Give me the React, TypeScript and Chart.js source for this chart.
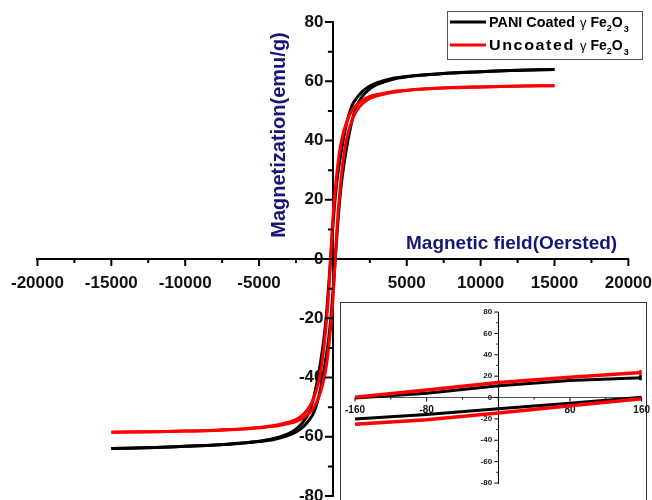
import React, { useEffect, useRef } from 'react';
import { Chart, registerables } from 'chart.js';

Chart.register(...registerables);

// ---------------- data ----------------
// Main loop: descending branch (from +15000 Oe) and ascending branch (from -15000 Oe)
const fieldDown = [15000, 12000, 10000, 8000, 6000, 5000, 4000, 3000, 2500, 2000, 1600, 1300, 1000, 800, 600, 450, 300, 160, 80, 0, -80, -160, -300, -450, -600, -800, -1000, -1300, -1600, -2000, -2500, -3000, -4000, -5000, -6000, -8000, -10000, -12000, -15000];
const paniDown = [64.0, 63.6, 63.2, 62.8, 62.1, 61.6, 60.9, 59.5, 58.4, 56.6, 54.3, 51.9, 47.2, 42.9, 37.3, 32.7, 27.4, 21.0, 16.4, 11.2, 5.6, 0, -9.8, -19.4, -26.6, -33.7, -39.6, -46.8, -51.6, -54.9, -57.4, -58.9, -60.6, -61.5, -62.0, -62.8, -63.2, -63.6, -64.0];
const uncDown = [58.5, 58.3, 58.1, 57.9, 57.4, 57.0, 56.5, 55.5, 54.9, 53.6, 52.0, 50.2, 47.1, 44.3, 40.4, 36.3, 30.4, 23.5, 19.0, 14.0, 7.0, 0, -12.3, -21.8, -29.5, -37.1, -42.2, -46.9, -50.0, -52.4, -54.2, -55.1, -56.2, -56.9, -57.3, -57.8, -58.1, -58.3, -58.5];

const fieldUp = [-15000, -12000, -10000, -8000, -6000, -5000, -4000, -3000, -2500, -2000, -1600, -1300, -1000, -800, -600, -450, -300, -160, -80, 0, 80, 160, 300, 450, 600, 800, 1000, 1300, 1600, 2000, 2500, 3000, 4000, 5000, 6000, 8000, 10000, 12000, 15000];
const paniUp = [-64.0, -63.6, -63.2, -62.8, -62.1, -61.6, -60.9, -59.5, -58.4, -56.6, -54.3, -51.9, -47.2, -42.9, -37.3, -32.7, -27.4, -21.0, -16.4, -11.2, -5.6, 0, 9.8, 19.4, 26.6, 33.7, 39.6, 46.8, 51.6, 54.9, 57.4, 58.9, 60.6, 61.5, 62.0, 62.8, 63.2, 63.6, 64.0];
const uncUp = [-58.5, -58.3, -58.1, -57.9, -57.4, -57.0, -56.5, -55.5, -54.9, -53.6, -52.0, -50.2, -47.1, -44.3, -40.4, -36.3, -30.4, -23.5, -19.0, -14.0, -7.0, 0, 12.3, 21.8, 29.5, 37.1, 42.2, 46.9, 50.0, 52.4, 54.2, 55.1, 56.2, 56.9, 57.3, 57.8, 58.1, 58.3, 58.5];

// Inset (low-field zoom of the loop)
const insetField = [-160, -80, 0, 80, 160];
const insetPaniUpper = [-0.5, 4, 11, 15.8, 18.5];
const insetPaniLower = [-20.2, -16, -10.5, -5.3, 0.3];
const insetUncUpper = [0.3, 7, 14, 19, 23.3];
const insetUncLower = [-25, -20.8, -14.6, -7.8, -1.2];

const seriesNames = ['PANI Coated', 'Uncoated'];
const seriesColors = ['#000000', '#ff0000'];
const compound = ['γ', 'Fe', '2', 'O', '3'];

const mainXLabels = [-20000, -15000, -10000, -5000, 5000, 10000, 15000, 20000];
const mainYLabels = [-80, -60, -40, -20, 0, 20, 40, 60, 80];
const insetXLabels = [-160, -80, 80, 160];
const insetYLabels = [-80, -60, -40, -20, 0, 20, 40, 60, 80];

const xTitle = 'Magnetic field(Oersted)';
const yTitle = 'Magnetization(emu/g)';

const FONT = '"Liberation Sans", Arial, sans-serif';
const NAVY = '#161678';
// the main canvas is shifted left by this many pixels; page positions are offset by it
const OFF = 3;

const toPts = (xs: number[], ys: number[]) => xs.map((x, i) => ({ x, y: ys[i] }));

const mainDecor = {
  id: 'mainDecor',
  afterDraw(chart: any) {
    const ctx: CanvasRenderingContext2D = chart.ctx;
    const xs = chart.scales.x;
    const ys = chart.scales.y;
    const x0 = xs.getPixelForValue(0);
    const y0 = ys.getPixelForValue(0);
    ctx.save();
    ctx.strokeStyle = '#000';
    ctx.lineWidth = 2;
    ctx.beginPath();
    ys.ticks.forEach((t: any) => {
      const p = ys.getPixelForValue(t.value);
      const len = mainYLabels.includes(t.value) ? 8 : 5;
      ctx.moveTo(x0 - len, p);
      ctx.lineTo(x0, p);
    });
    xs.ticks.forEach((t: any) => {
      const p = xs.getPixelForValue(t.value);
      const len = t.value % 5000 === 0 ? 7 : 4;
      ctx.moveTo(p, y0);
      ctx.lineTo(p, y0 + len);
    });
    ctx.stroke();

    ctx.translate(OFF, 0);
    // axis titles
    ctx.fillStyle = NAVY;
    ctx.font = `bold 19px ${FONT}`;
    ctx.textAlign = 'left';
    ctx.textBaseline = 'alphabetic';
    ctx.fillText(xTitle, 406, 249);
    ctx.save();
    ctx.translate(285, 135);
    ctx.rotate(-Math.PI / 2);
    ctx.font = `bold 20px ${FONT}`;
    ctx.textAlign = 'center';
    ctx.fillText(yTitle, 0, 0);
    ctx.restore();

    // legend
    const bx = 447, by = 11, bw = 196, bh = 49;
    ctx.fillStyle = '#fff';
    ctx.fillRect(bx, by, bw, bh);
    ctx.strokeStyle = '#555';
    ctx.lineWidth = 1;
    ctx.strokeRect(bx + 0.5, by + 0.5, bw - 1, bh - 1);
    const rows = [22, 45];
    seriesNames.forEach((name, i) => {
      const y = rows[i];
      ctx.strokeStyle = seriesColors[i];
      ctx.lineWidth = 3;
      ctx.beginPath();
      ctx.moveTo(450, y);
      ctx.lineTo(486, y);
      ctx.stroke();
      ctx.fillStyle = '#000';
      ctx.textAlign = 'left';
      ctx.font = `bold 14px ${FONT}`;
      const w = ctx.measureText(name).width;
      const target = 86;
      const sx = Math.min(1.15, Math.max(1, target / w));
      const rest = Math.max(0, target - w * sx);
      ctx.save();
      ctx.translate(489, y + 5);
      ctx.scale(sx, 1);
      (ctx as any).letterSpacing = `${rest / name.length / sx}px`;
      ctx.fillText(name, 0, 0);
      ctx.restore();
      let x = 580;
      ctx.font = `13px ${FONT}`;
      ctx.fillText(compound[0], x, y + 5);
      x += ctx.measureText(compound[0]).width + 4;
      ctx.font = `bold 14px ${FONT}`;
      ctx.fillText(compound[1], x, y + 5);
      x += ctx.measureText(compound[1]).width;
      ctx.font = `bold 9px ${FONT}`;
      ctx.fillText(compound[2], x, y + 9);
      x += ctx.measureText(compound[2]).width;
      ctx.font = `bold 14px ${FONT}`;
      ctx.fillText(compound[3], x, y + 5);
      x += ctx.measureText(compound[3]).width + 1;
      ctx.font = `bold 9px ${FONT}`;
      ctx.fillText(compound[4], x, y + 10);
    });
    ctx.restore();
  },
};

const insetDecor = {
  id: 'insetDecor',
  afterDraw(chart: any) {
    const ctx: CanvasRenderingContext2D = chart.ctx;
    const xs = chart.scales.x;
    const ys = chart.scales.y;
    const x0 = xs.getPixelForValue(0);
    const y0 = ys.getPixelForValue(0);
    ctx.save();
    ctx.strokeStyle = '#000';
    ctx.lineWidth = 1;
    ctx.beginPath();
    ys.ticks.forEach((t: any) => {
      const p = ys.getPixelForValue(t.value);
      const len = insetYLabels.includes(t.value) ? 4 : 2;
      ctx.moveTo(x0 - len, p);
      ctx.lineTo(x0, p);
    });
    xs.ticks.forEach((t: any) => {
      const p = xs.getPixelForValue(t.value);
      const len = t.value % 80 === 0 ? 4 : 2;
      ctx.moveTo(p, y0);
      ctx.lineTo(p, y0 + len);
    });
    ctx.stroke();
    ctx.restore();
  },
};

export default function App() {
  const mainRef = useRef<HTMLCanvasElement>(null);
  const insetRef = useRef<HTMLCanvasElement>(null);

  useEffect(() => {
    const lineDs = (label: string, color: string, data: any[], order: number, width = 3) => ({
      label,
      data,
      borderColor: color,
      backgroundColor: color,
      borderWidth: width,
      showLine: true,
      pointRadius: 0,
      cubicInterpolationMode: 'monotone' as const,
      order,
    });
    const label0 = seriesNames[0] + ' γ Fe₂O₃';
    const label1 = seriesNames[1] + ' γ Fe₂O₃';

    const tickFont = { family: FONT, weight: 'bold' as const, size: 17 };

    const main = new Chart(mainRef.current!, {
      type: 'scatter',
      data: {
        datasets: [
          lineDs(label0, seriesColors[0], toPts(fieldDown, paniDown), 1),
          lineDs(label0, seriesColors[0], toPts(fieldUp, paniUp), 1),
          lineDs(label1, seriesColors[1], toPts(fieldDown, uncDown), 0),
          lineDs(label1, seriesColors[1], toPts(fieldUp, uncUp), 0),
        ],
      },
      options: {
        animation: false,
        responsive: false,
        devicePixelRatio: 1,
        layout: { padding: { left: 38, right: 24, top: 22, bottom: 22 } },
        plugins: { legend: { display: false }, tooltip: { enabled: false } },
        scales: {
          x: {
            type: 'linear',
            min: -20000,
            max: 20000,
            position: { y: 0 } as any,
            ticks: {
              stepSize: 2500,
              autoSkip: false,
              maxRotation: 0,
              minRotation: 0,
              padding: 14,
              color: '#111',
              font: tickFont,
              callback: (v: any) => (mainXLabels.includes(Number(v)) ? String(v) : ''),
            },
            grid: { display: false, drawTicks: false },
            border: { display: true, color: '#000', width: 2 },
          },
          y: {
            type: 'linear',
            min: -80,
            max: 80,
            position: { x: 0 } as any,
            ticks: {
              stepSize: 10,
              autoSkip: false,
              color: '#111',
              font: tickFont,
              // trailing spaces keep the right-aligned label clear of the axis line
              callback: (v: any) => (mainYLabels.includes(Number(v)) ? String(v) + '  ' : ''),
            },
            grid: { display: false, drawTicks: false },
            border: { display: true, color: '#000', width: 2 },
          },
        },
      },
      plugins: [mainDecor],
    });

    const endMark = (ctx: any) => (ctx.dataIndex === insetField.length - 1 ? 3 : 0);
    const inset = new Chart(insetRef.current!, {
      type: 'scatter',
      data: {
        datasets: [
          { ...lineDs(label0, seriesColors[0], toPts(insetField, insetPaniUpper), 1, 3), pointRadius: endMark, pointStyle: 'rect', pointBorderWidth: 1, cubicInterpolationMode: 'default' as const },
          { ...lineDs(label0, seriesColors[0], toPts(insetField, insetPaniLower), 1, 3), cubicInterpolationMode: 'default' as const },
          { ...lineDs(label1, seriesColors[1], toPts(insetField, insetUncUpper), 0, 3.5), pointRadius: endMark, pointStyle: 'rect', pointBorderWidth: 1, cubicInterpolationMode: 'default' as const },
          { ...lineDs(label1, seriesColors[1], toPts(insetField, insetUncLower), 0, 3.5), cubicInterpolationMode: 'default' as const },
        ],
      },
      options: {
        animation: false,
        responsive: false,
        devicePixelRatio: 1,
        layout: { padding: { left: 15, right: 6, top: 10, bottom: 17 } },
        plugins: { legend: { display: false }, tooltip: { enabled: false } },
        scales: {
          x: {
            type: 'linear',
            min: -160,
            max: 160,
            position: { y: 0 } as any,
            ticks: {
              stepSize: 40,
              autoSkip: false,
              maxRotation: 0,
              minRotation: 0,
              padding: 7,
              color: '#111',
              font: { family: FONT, weight: 'bold' as const, size: 10 },
              callback: (v: any) => (insetXLabels.includes(Number(v)) ? String(v) : ''),
            },
            grid: { display: false, drawTicks: false },
            border: { display: true, color: '#555', width: 1 },
          },
          y: {
            type: 'linear',
            min: -80,
            max: 80,
            position: { x: 0 } as any,
            ticks: {
              stepSize: 10,
              autoSkip: false,
              color: '#111',
              font: { family: FONT, weight: 'bold' as const, size: 8 },
              callback: (v: any) => (insetYLabels.includes(Number(v)) ? String(v) + '\u2002 ' : ''),
            },
            grid: { display: false, drawTicks: false },
            border: { display: true, color: '#000', width: 1 },
          },
        },
      },
      plugins: [insetDecor],
    });

    return () => {
      main.destroy();
      inset.destroy();
    };
  }, []);

  return (
    <div style={{ position: 'fixed', left: 0, top: 0, width: 652, height: 500, background: '#fff', overflow: 'hidden' }}>
      <canvas ref={mainRef} width={669} height={518} style={{ position: 'absolute', left: -OFF, top: 0, width: 669, height: 518 }} />
      <div style={{ position: 'absolute', left: 340, top: 302, width: 307, height: 200, boxSizing: 'border-box', border: '1.3px solid #333', borderBottom: 'none', background: '#fff' }} />
      <canvas ref={insetRef} width={319} height={198} style={{ position: 'absolute', left: 338, top: 302, width: 319, height: 198 }} />
    </div>
  );
}
